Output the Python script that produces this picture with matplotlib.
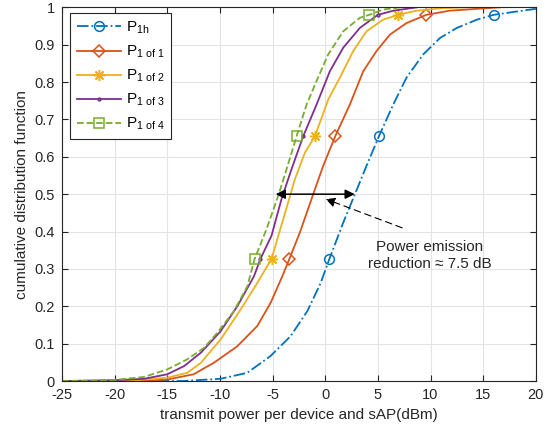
import matplotlib
matplotlib.use("Agg")
import matplotlib.pyplot as plt

plt.rcParams['font.family'] = ['Liberation Sans', 'DejaVu Sans']
plt.rcParams['mathtext.fontset'] = 'custom'
plt.rcParams['mathtext.rm'] = 'Liberation Sans'
plt.rcParams['mathtext.it'] = 'Liberation Sans:italic'

# ---- data ----
labels = [r'P$_{\mathregular{1h}}$', r'P$_{\mathregular{1\ of\ 1}}$',
          r'P$_{\mathregular{1\ of\ 2}}$', r'P$_{\mathregular{1\ of\ 3}}$',
          r'P$_{\mathregular{1\ of\ 4}}$']

x_1h = [-25, -13.5, -9.94, -7.4, -5.19, -3.29, -1.7, -0.44, 0.4, 1.71, 2.82, 3.92,
        5.1, 6.46, 7.72, 9.3, 10.9, 12.5, 14.4, 16.0, 18.2, 20]
y_1h = [0, 0, 0.006, 0.022, 0.067, 0.12, 0.187, 0.262, 0.327, 0.424, 0.5, 0.576,
        0.655, 0.74, 0.812, 0.874, 0.918, 0.945, 0.967, 0.98, 0.989, 0.996]

x_1of1 = [-25, -17, -15, -12.5, -10.57, -8.35, -6.46, -5.19, -4.08, -3.4, -2.4, -1.14,
          -0.19, 0.95, 2.34, 3.61, 4.87, 6.14, 7.72, 9.6, 11.8, 14.4, 16.6]
y_1of1 = [0, 0.001, 0.004, 0.018, 0.049, 0.093, 0.147, 0.209, 0.28, 0.327, 0.398, 0.5,
          0.576, 0.655, 0.74, 0.829, 0.883, 0.927, 0.958, 0.98, 0.991, 0.996, 1.0]

x_1of2 = [-25, -18, -15, -13.1, -11.8, -9.94, -8.04, -6.46, -5.1, -3.99, -2.88, -1.93,
          -0.98, 0.28, 1.39, 2.66, 3.92, 5.5, 6.93, 8.67, 11.2, 13.4]
y_1of2 = [0, 0.002, 0.009, 0.022, 0.049, 0.111, 0.191, 0.262, 0.327, 0.433, 0.54, 0.611,
          0.655, 0.753, 0.812, 0.883, 0.936, 0.967, 0.98, 0.991, 0.998, 1.0]

x_1of3 = [-25, -20, -17.2, -15, -13.4, -11.8, -9.94, -8.35, -6.77, -6.15, -5.1, -4.15,
          -3.2, -2.09, -0.82, 0.44, 1.71, 3.29, 5.0, 6.46, 8.7]
y_1of3 = [0, 0.002, 0.006, 0.018, 0.04, 0.076, 0.133, 0.2, 0.28, 0.327, 0.389, 0.487,
          0.567, 0.655, 0.74, 0.829, 0.892, 0.945, 0.98, 0.991, 1.0]

x_1of4 = [-25, -22, -20, -17.2, -15, -13.1, -11.5, -10.25, -8.67, -7.4, -6.7, -5.57,
          -4.46, -3.67, -2.72, -1.77, -0.82, 0.28, 1.71, 3.29, 4.18, 5.5, 7.1]
y_1of4 = [0, 0.001, 0.003, 0.011, 0.031, 0.058, 0.089, 0.129, 0.187, 0.253, 0.327, 0.407,
          0.496, 0.567, 0.655, 0.74, 0.803, 0.874, 0.936, 0.972, 0.98, 0.994, 1.0]

marker_levels = [0.327, 0.655, 0.98]

xticks = list(range(-25, 21, 5))
yticks = [i / 10 for i in range(11)]

colors = ['#0072BD', '#D95319', '#EDB120', '#7E2F8E', '#77AC30']
styles = ['-.', '-', '-', '-', '--']
markers = ['o', 'D', (8, 2, 0), '.', 's']
msizes = [7, 6, 8, 4, 6.5]

series = [(x_1h, y_1h), (x_1of1, y_1of1), (x_1of2, y_1of2),
          (x_1of3, y_1of3), (x_1of4, y_1of4)]

fig = plt.figure(figsize=(5.53, 4.32), dpi=100)
ax = fig.add_axes([0.112, 0.118, 0.857, 0.865])

for (xs, ys), lab, c, ls, mk, ms in zip(series, labels, colors, styles, markers, msizes):
    idx = [i for i, v in enumerate(ys) if v in marker_levels]
    ax.plot(xs, ys, color=c, linestyle=ls, linewidth=1.3, marker=mk, markersize=ms,
            markerfacecolor='none', markeredgecolor=c, markeredgewidth=1.1,
            markevery=idx, label=lab)

ax.set_xlim(-25, 20)
ax.set_ylim(0, 1)
ax.set_xticks(xticks)
ax.set_yticks(yticks)
ax.set_xticklabels([str(t) for t in xticks])
ax.set_yticklabels(['0'] + ['%.1f' % t for t in yticks[1:-1]] + ['1'])
ax.grid(True, color='#E3E3E3', linewidth=0.8)
ax.set_axisbelow(True)
ax.tick_params(direction='in', length=4, width=0.8, top=True, right=True,
               labelsize=10.5, colors='#262626', pad=5)
for s in ax.spines.values():
    s.set_color('#262626')
    s.set_linewidth(0.8)

ax.set_xlabel('transmit power per device and sAP(dBm)', fontsize=11, color='#262626')
ax.set_ylabel('cumulative distribution function', fontsize=11, color='#262626')

# annotations
ax.annotate('', xy=(-4.7, 0.5), xytext=(2.8, 0.5),
            arrowprops=dict(arrowstyle='<|-|>', color='black', lw=1.1,
                            mutation_scale=14, shrinkA=0, shrinkB=0))
ax.annotate('', xy=(0.05, 0.487), xytext=(7.3, 0.41),
            arrowprops=dict(arrowstyle='-|>', color='black', lw=0.8, linestyle=(0, (6, 4)),
                            mutation_scale=14, shrinkA=0, shrinkB=0))
ax.text(9.9, 0.336, 'Power emission\nreduction \u2248 7.5 dB', ha='center', va='center',
        fontsize=11, color='#262626', linespacing=1.2)

leg = ax.legend(loc='upper left', bbox_to_anchor=(0.017, 0.985), borderaxespad=0,
                fontsize=11, handlelength=2.9, borderpad=0.45, labelspacing=0.5,
                handletextpad=0.3, fancybox=False, framealpha=1, edgecolor='#262626')
leg.get_frame().set_linewidth(0.8)

fig.savefig('out.png', dpi=100)
